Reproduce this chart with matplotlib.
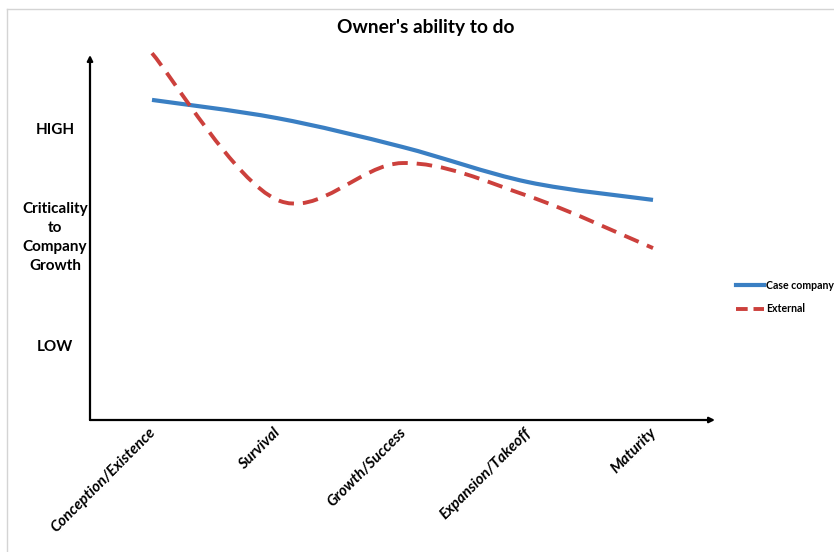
import matplotlib
matplotlib.use("Agg")
import matplotlib.pyplot as plt
import matplotlib.transforms as mtransforms
from matplotlib.path import Path
from matplotlib.patches import PathPatch
from matplotlib.lines import Line2D
import numpy as np

plt.rcParams['font.family'] = ['Lato', 'DejaVu Sans']

# stages of company growth
stages = ['Conception/Existence', 'Survival', 'Growth/Success',
          'Expansion/Takeoff', 'Maturity']

# criticality scores (0 = bottom of axis, 10 = top)
case_company = [8.77, 8.27, 7.48, 6.52, 6.03]
external = [10.05, 6.03, 7.04, 6.14, 4.71]

ylabels = ['HIGH', 'Criticality\nto\nCompany\nGrowth', 'LOW']
ylabel_pos = [7.95, 5.0, 2.0]


def smooth_path(xs, ys):
    # excel style smoothed line: cubic bezier through every point
    pts = np.column_stack([xs, ys]).astype(float)
    ext = np.vstack([pts[0], pts, pts[-1]])
    verts = [pts[0]]
    codes = [Path.MOVETO]
    for i in range(len(pts) - 1):
        p0, p1, p2, p3 = ext[i], ext[i + 1], ext[i + 2], ext[i + 3]
        verts += [p1 + (p2 - p0) / 6, p2 - (p3 - p1) / 6, p2]
        codes += [Path.CURVE4] * 3
    return Path(verts, codes)


fig = plt.figure(figsize=(8.34, 5.52), dpi=100)
ax = fig.add_axes([90 / 834, 132 / 552, 625 / 834, 365 / 552])

x = np.arange(len(stages))
blue = '#3a7fc3'
red = '#cc403c'

ax.add_patch(PathPatch(smooth_path(x, case_company), fill=False,
                       edgecolor=blue, lw=3.0, capstyle='butt'))
ax.add_patch(PathPatch(smooth_path(x, external), fill=False,
                       edgecolor=red, lw=2.8, linestyle=(0, (4, 2.3)),
                       capstyle='butt', clip_on=False))

ax.set_xlim(-0.495, 4.495)
ax.set_ylim(0, 10)

for s in ax.spines.values():
    s.set_visible(False)
ax.set_xticks(x)
ax.set_xticklabels(stages, rotation=45, ha='right', va='top',
                   fontsize=11, fontweight='bold', fontstyle='italic')
ax.tick_params(axis='x', length=0, pad=4)
shift = mtransforms.ScaledTranslation(6 / 100, 0, fig.dpi_scale_trans)
for t in ax.get_xticklabels():
    t.set_transform(t.get_transform() + shift)
ax.set_yticks([])

for lab, yp in zip(ylabels, ylabel_pos):
    ax.text(-0.056, yp, lab, transform=ax.get_yaxis_transform(),
            ha='center', va='center', fontsize=11, fontweight='bold',
            linespacing=1.45)

# arrow axes
ax.annotate('', xy=(0, 1.0), xytext=(0, 0), xycoords='axes fraction',
            arrowprops=dict(arrowstyle='-|>', color='black', lw=1.6,
                            mutation_scale=8, shrinkA=0, shrinkB=0))
ax.annotate('', xy=(1.0, 0), xytext=(0, 0), xycoords='axes fraction',
            arrowprops=dict(arrowstyle='-|>', color='black', lw=1.6,
                            mutation_scale=8, shrinkA=0, shrinkB=0))

fig.text(426 / 834, 1 - 28 / 552, "Owner's ability to do", ha='center',
         va='center', fontsize=13.8, fontweight='bold')

handles = [Line2D([], [], color=blue, lw=3.0),
           Line2D([], [], color=red, lw=2.8, linestyle=(0, (3, 1.5)))]
fig.legend(handles, ['Case company', 'External'], loc='center left',
           bbox_to_anchor=(732 / 834, 1 - 297 / 552), frameon=False,
           prop={'size': 7.6, 'weight': 'bold'}, handlelength=2.6,
           handletextpad=0.2, labelspacing=1.2, borderaxespad=0)

# light frame around the chart
fig.add_artist(Line2D([7 / 834, 7 / 834], [0, 1 - 9 / 552],
                      transform=fig.transFigure, color='#d4d4d4', lw=1))
fig.add_artist(Line2D([7 / 834, 1], [1 - 9 / 552, 1 - 9 / 552],
                      transform=fig.transFigure, color='#d4d4d4', lw=1))

fig.savefig('out.png', dpi=100)
